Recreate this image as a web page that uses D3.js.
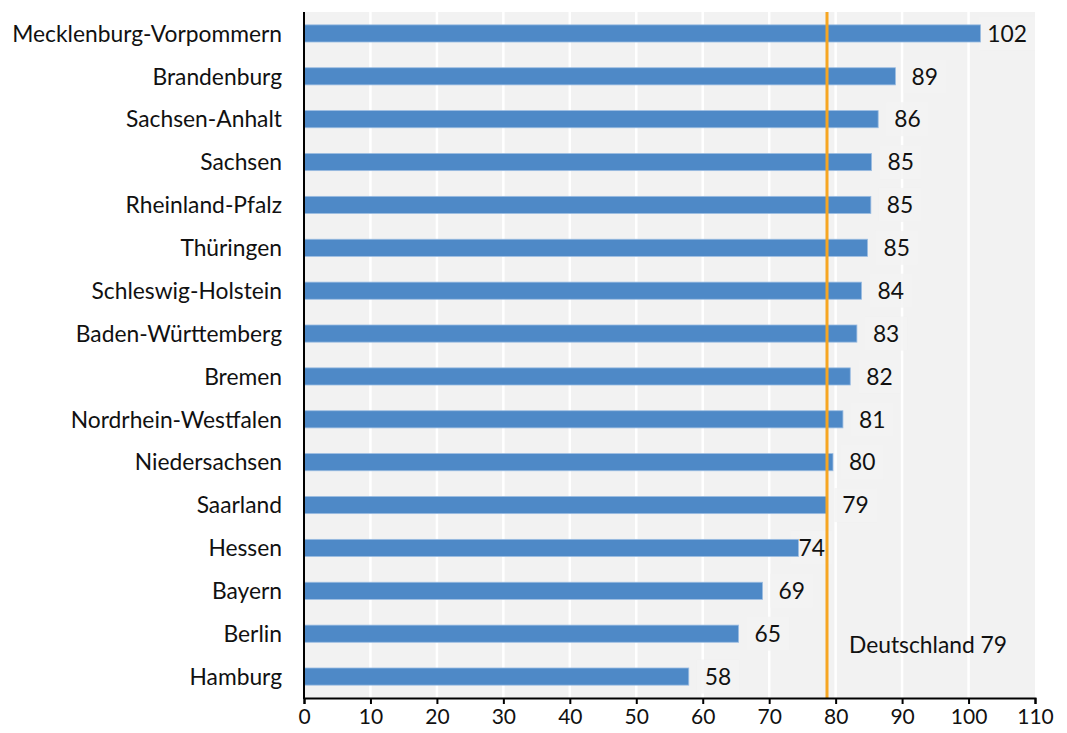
<!DOCTYPE html>
<html>
<head>
<meta charset="utf-8">
<script src="https://cdn.jsdelivr.net/npm/d3@7"></script>
<style>
  body { margin: 0; background: #fff; }
  text { font-family: Lato, "Open Sans", sans-serif; fill: #111; }
</style>
</head>
<body>
<div id="chart"></div>
<script>
// data
const states = ['Mecklenburg-Vorpommern', 'Brandenburg', 'Sachsen-Anhalt', 'Sachsen',
  'Rheinland-Pfalz', 'Thüringen', 'Schleswig-Holstein', 'Baden-Württemberg', 'Bremen',
  'Nordrhein-Westfalen', 'Niedersachsen', 'Saarland', 'Hessen', 'Bayern', 'Berlin', 'Hamburg'];
const values = [101.8, 89.0, 86.4, 85.4, 85.3, 84.8, 83.9, 83.2, 82.2, 81.1, 79.6, 78.6, 74.4, 69.0, 65.4, 57.9];
const xTicks = [0, 10, 20, 30, 40, 50, 60, 70, 80, 90, 100, 110];
const germany = 78.7;
const germanyLabel = 'Deutschland 79';

const W = 1067, H = 733;
const margin = {top: 12, right: 32, bottom: 35, left: 304};
const width = W - margin.left - margin.right;
const height = H - margin.top - margin.bottom;
const fontSize = '22.8px';

const svg = d3.select('#chart').append('svg')
  .attr('width', W).attr('height', H);
const g = svg.append('g')
  .attr('transform', 'translate(' + margin.left + ',' + margin.top + ')');

const x = d3.scaleLinear().domain([0, 110]).range([0, width]);
const y = d3.scaleBand().domain(states).range([0, height])
  .paddingInner(0.6).paddingOuter(0.3);
const refX = x(germany);

// plot background + grid
g.append('rect').attr('width', width).attr('height', height).attr('fill', '#f2f2f2');
g.selectAll('.grid').data(xTicks.slice(1, -1)).enter().append('line')
  .attr('x1', d => x(d)).attr('x2', d => x(d))
  .attr('y1', 0).attr('y2', height)
  .attr('stroke', '#fff').attr('stroke-width', 2.5);

// layers: label boxes under the bars, text on top
const boxLayer = g.append('g');
const barLayer = g.append('g');
const lineLayer = g.append('g');
const textLayer = g.append('g');

// bars
barLayer.selectAll('rect').data(values).enter().append('rect')
  .attr('x', 0)
  .attr('y', (d, i) => y(states[i]))
  .attr('width', d => x(d))
  .attr('height', y.bandwidth())
  .attr('fill', '#4e89c7')
  .attr('stroke', '#9cbde2').attr('stroke-width', 0.8);

// Germany reference line
lineLayer.append('line')
  .attr('x1', refX).attr('x2', refX).attr('y1', 0).attr('y2', height)
  .attr('stroke', '#f6a623').attr('stroke-width', 3);

// value labels
const fmt = d3.format('.0f');
values.forEach((d, i) => {
  const cy = y(states[i]) + y.bandwidth() / 2;
  const t = textLayer.append('text')
    .attr('y', cy)
    .attr('dy', '0.36em')
    .style('font-size', fontSize)
    .text(fmt(d));
  const w = t.node().getComputedTextLength();
  let lx = x(d) + 16;
  // keep clear of the reference line and the right edge
  if (lx < refX + 4 && lx + w > refX - 2) lx = Math.max(x(d), refX - w - 3);
  lx = Math.min(lx, width - w - 8);
  t.attr('x', lx);
  boxLayer.append('rect')
    .attr('x', lx - 8).attr('y', cy - 17)
    .attr('width', w + 16).attr('height', 34)
    .attr('fill', '#f2f2f2').attr('opacity', 0.8);
});

textLayer.append('text')
  .attr('x', refX + 22).attr('y', y('Hamburg') - 23)
  .attr('dy', '0.36em')
  .style('font-size', fontSize)
  .text(germanyLabel);

// category labels
g.selectAll('.cat').data(states).enter().append('text')
  .attr('x', -22)
  .attr('y', d => y(d) + y.bandwidth() / 2)
  .attr('dy', '0.36em')
  .attr('text-anchor', 'end')
  .style('font-size', fontSize)
  .text(d => d);

// axes
const xAxis = g.append('g')
  .attr('transform', 'translate(0,' + height + ')')
  .call(d3.axisBottom(x).tickValues(xTicks).tickSize(6).tickPadding(5));
xAxis.select('.domain').attr('stroke', '#000').attr('stroke-width', 2);
xAxis.selectAll('.tick line').attr('stroke', '#000').attr('stroke-width', 2);
xAxis.selectAll('.tick text').style('font-size', '21px').attr('fill', '#111')
  .style('font-family', 'Lato, "Open Sans", sans-serif');

g.append('line')
  .attr('x1', 0).attr('x2', 0).attr('y1', 0).attr('y2', height + 1)
  .attr('stroke', '#000').attr('stroke-width', 2);
</script>
</body>
</html>
